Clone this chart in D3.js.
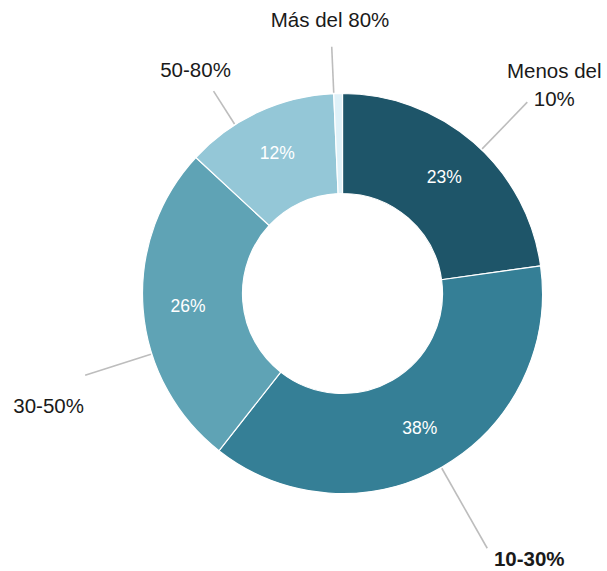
<!DOCTYPE html>
<html>
<head>
<meta charset="utf-8">
<script src="https://cdn.jsdelivr.net/npm/d3@7"></script>
<style>
  html, body { margin: 0; padding: 0; background: #fff; }
  svg { display: block; }
  text { font-family: "Liberation Sans", Arial, sans-serif; }
</style>
</head>
<body>
<svg id="chart" width="607" height="571"></svg>
<script>
// ---- data ----
const categories = ["Menos del 10%", "10-30%", "30-50%", "50-80%", "Más del 80%"];
const labelLines = [["Menos del", "10%"], ["10-30%"], ["30-50%"], ["50-80%"], ["Más del 80%"]];
const values = [22.8, 37.8, 26.3, 12.4, 0.7];
const pctLabels = ["23%", "38%", "26%", "12%", ""];
const boldCategory = "10-30%";
const colors = ["#1e5569", "#357f96", "#5fa3b5", "#94c7d7", "#dff1f8"];

// ---- layout ----
const svg = d3.select("#chart");
const cx = 342.5, cy = 293.5;
const rIn = 100, rOut = 200;
const g = svg.append("g").attr("transform", `translate(${cx},${cy})`);

const pie = d3.pie().sort(null).value(d => d).startAngle(0).endAngle(2 * Math.PI);
const arcs = pie(values);
const arc = d3.arc().innerRadius(rIn).outerRadius(rOut);
const labelArc = d3.arc().innerRadius(155).outerRadius(155);

g.selectAll("path.slice").data(arcs).enter().append("path")
  .attr("class", "slice")
  .attr("d", arc)
  .attr("fill", (d, i) => colors[i])
  .attr("stroke", "#fff")
  .attr("stroke-width", 1.2);

g.selectAll("text.pct").data(arcs).enter().append("text")
  .attr("class", "pct")
  .attr("transform", d => `translate(${labelArc.centroid(d)})`)
  .attr("text-anchor", "middle")
  .attr("dy", "0.35em")
  .attr("fill", "#fff")
  .attr("font-size", 17.5)
  .text((d, i) => pctLabels[i]);

// leader line layout: angle (deg, clockwise from top), end radius, text offset from line end
const leader = [
  { a: 44.0, r: 266, dx: 27, dy: -24 },
  { a: 150.4, r: 293, dx: 42, dy: 18 },
  { a: 252.4, r: 270, dx: -36.5, dy: 38 },
  { a: 327.5, r: 240, dx: -18, dy: -14 },
  { a: 357.5, r: 247, dx: -1.7, dy: -20 }
];
const pt = (deg, r) => {
  const t = deg * Math.PI / 180;
  return [r * Math.sin(t), -r * Math.cos(t)];
};

leader.forEach((L, i) => {
  const p0 = pt(L.a, rOut + 1);
  const p1 = pt(L.a, L.r);
  g.append("line")
    .attr("x1", p0[0]).attr("y1", p0[1])
    .attr("x2", p1[0]).attr("y2", p1[1])
    .attr("stroke", "#bdbdbd")
    .attr("stroke-width", 1.6);
  const t = g.append("text")
    .attr("text-anchor", "middle")
    .attr("fill", "#1a1a1a")
    .attr("font-size", 20.5)
    .attr("font-weight", categories[i] === boldCategory ? "bold" : "normal");
  labelLines[i].forEach((ln, j) => {
    t.append("tspan")
      .attr("x", p1[0] + L.dx)
      .attr("y", p1[1] + L.dy + j * 28)
      .text(ln);
  });
});
</script>
</body>
</html>
